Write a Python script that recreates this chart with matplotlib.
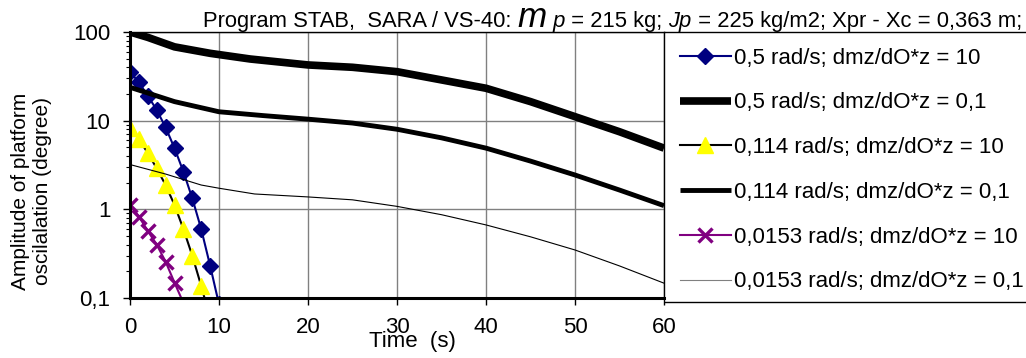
import matplotlib

matplotlib.use("Agg")
import matplotlib.pyplot as plt
from matplotlib.lines import Line2D
from matplotlib.ticker import FixedLocator, LogLocator, NullFormatter

plt.rcParams["font.family"] = ["Liberation Sans", "DejaVu Sans"]

# 0,5 rad/s; dmz/dO*z = 10
t_a = [0, 1, 2, 3, 4, 5, 6, 7, 8, 9, 10]
amp_a = [35.6, 27, 19.1, 13.2, 8.4, 4.9, 2.66, 1.33, 0.6, 0.232, 0.085]
# 0,5 rad/s; dmz/dO*z = 0,1
t_b = [0, 2, 5, 9, 13.5, 20, 25, 30, 35, 40, 45, 50, 55, 60]
amp_b = [100, 87, 68, 57.5, 49.6, 42.5, 40, 35.7, 28.8, 23.2, 16.4, 11.1, 7.5, 4.9]
# 0,114 rad/s; dmz/dO*z = 10
t_c = [0, 1, 2, 3, 4, 5, 6, 7, 8, 8.5]
amp_c = [8.2, 6.2, 4.3, 2.9, 1.88, 1.12, 0.6, 0.3, 0.137, 0.09]
# 0,114 rad/s; dmz/dO*z = 0,1
t_d = [0, 5, 10, 15, 20, 25, 30, 35, 40, 45, 50, 55, 60]
amp_d = [23.8, 16.4, 12.6, 11.4, 10.4, 9.4, 8.0, 6.4, 4.9, 3.5, 2.44, 1.65, 1.1]
# 0,0153 rad/s; dmz/dO*z = 10
t_e = [0, 1, 2, 3, 4, 5, 6]
amp_e = [1.12, 0.83, 0.57, 0.40, 0.257, 0.149, 0.088]
# 0,0153 rad/s; dmz/dO*z = 0,1
t_f = [0, 4, 8, 10, 14, 20, 25, 30, 35, 40, 45, 50, 55, 60]
amp_f = [3.2, 2.5, 1.88, 1.73, 1.49, 1.38, 1.28, 1.08, 0.87, 0.667, 0.49, 0.348, 0.23, 0.147]

labels = [
    "0,5 rad/s; dmz/dO*z = 10",
    "0,5 rad/s; dmz/dO*z = 0,1",
    "0,114 rad/s; dmz/dO*z = 10",
    "0,114 rad/s; dmz/dO*z = 0,1",
    "0,0153 rad/s; dmz/dO*z = 10",
    "0,0153 rad/s; dmz/dO*z = 0,1",
]
x_ticks = [0, 10, 20, 30, 40, 50, 60]
y_ticks = [0.1, 1, 10, 100]
y_tick_labels = ["0,1", "1", "10", "100"]

FS = 16
W, H = 1026, 358
fig = plt.figure(figsize=(W / 100, H / 100), dpi=100)
ax = fig.add_axes([130 / W, 1 - 298 / H, 534 / W, 266 / H])

h1, = ax.plot(t_a, amp_a, color="#000080", lw=1.5, marker="D", ms=8)
h2, = ax.plot(t_b, amp_b, color="black", lw=5.5, solid_capstyle="butt")
h3, = ax.plot(t_c, amp_c, color="black", lw=1.5, marker="^", ms=12,
              mfc="#ffff00", mec="#ffff00", markevery=list(range(9)))
h4, = ax.plot(t_d, amp_d, color="black", lw=3.5, solid_capstyle="butt")
h5, = ax.plot(t_e, amp_e, color="#800080", lw=1.5, marker="x", ms=10, mew=2.4,
              markevery=list(range(6)))
h6, = ax.plot(t_f, amp_f, color="black", lw=0.8)

ax.set_yscale("log")
ax.set_xlim(0, 60)
ax.set_ylim(0.1, 100)
ax.xaxis.set_major_locator(FixedLocator(x_ticks))
ax.set_yticks(y_ticks)
ax.set_yticklabels(y_tick_labels)
ax.yaxis.set_minor_locator(LogLocator(base=10, subs=range(2, 10)))
ax.yaxis.set_minor_formatter(NullFormatter())
ax.tick_params(axis="both", which="major", labelsize=FS, direction="out", length=5, width=1, pad=9)
ax.tick_params(axis="y", which="minor", direction="out", length=3, width=0.8)
ax.grid(True, which="major", color="#808080", lw=1)
for side in ("left", "bottom"):
    ax.spines[side].set_linewidth(2.2)
ax.spines["top"].set_linewidth(1)
ax.spines["right"].set_linewidth(1)

leg = ax.legend(
    [h1, h2, h3, h4, h5, h6], labels,
    loc="upper left", bbox_to_anchor=(1.0, 1.0),
    fontsize=FS, frameon=False,
    handlelength=2.3, handletextpad=0.15, labelspacing=1.07, borderaxespad=0,
    borderpad=0.7,
)
leg.legend_handles[5].set_color("#808080")

# legend box: open on the right, it runs past the figure edge in the source
box_right = 1030 / W
fig.add_artist(Line2D([664 / W, box_right], [1 - 32 / H, 1 - 32 / H], color="black", lw=1,
                      solid_capstyle="butt"))
fig.add_artist(Line2D([664 / W, box_right], [1 - 302 / H, 1 - 302 / H], color="black", lw=1,
                      solid_capstyle="butt"))

fig.text(32 / W, 1 - 191 / H, "Amplitude of platform\noscilalation (degree)", rotation=90,
         ha="center", va="center", fontsize=15, multialignment="center", linespacing=1.2)
fig.text(412 / W, 1 - 342 / H, "Time  (s)", ha="center", va="center", fontsize=FS)

# title built from pieces with mixed sizes and italics, sharing one baseline
TFS = 15.8
pieces = [
    ("Program STAB,  SARA / VS-40: ", TFS, "normal"),
    ("m", TFS * 1.6, "italic"),
    (" p", TFS, "italic"),
    (" = 215 kg; ", TFS, "normal"),
    ("Jp", TFS, "italic"),
    (" = 225 kg/m2; Xpr - Xc = 0,363 m;", TFS, "normal"),
]
renderer = fig.canvas.get_renderer()
base_y = 1 - 27 / H
title_parts = [fig.text(0, base_y, text, fontsize=size, style=style, va="baseline", ha="left")
               for text, size, style in pieces]
widths = [t.get_window_extent(renderer).width for t in title_parts]
x_px = 1022 - sum(widths)
for t, w in zip(title_parts, widths):
    t.set_x(x_px / W)
    x_px += w

fig.savefig("out.png", dpi=100)
